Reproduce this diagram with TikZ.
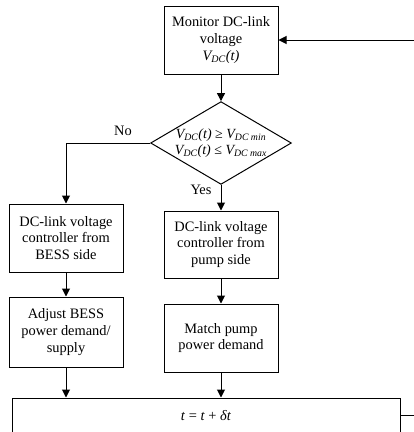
\documentclass[tikz,border=0pt]{standalone}
\usepackage{fontspec}
\setmainfont{Liberation Serif}
\usetikzlibrary{shapes.geometric,arrows.meta}
\begin{document}
\begin{tikzpicture}[x=1pt,y=-1pt,
  box/.style={draw, line width=1pt, inner sep=0pt, align=center,
    minimum width=114pt, font=\fontsize{14.4}{16.7}\selectfont},
  dec/.style={draw, line width=1pt, diamond, aspect=1.7, inner sep=0pt,
    minimum width=139pt, minimum height=82pt, align=center,
    font=\fontsize{14}{16}\selectfont},
  lbl/.style={inner sep=0pt, font=\fontsize{14.4}{16.7}\selectfont},
  arr/.style={-{Triangle[length=8pt,width=8pt]}, line width=1pt},
  ln/.style={line width=1pt}]
\useasboundingbox (0,0) rectangle (414,432);
\clip (0,0) rectangle (414,432);
\node[box, minimum height=68pt] (mon) at (221,40)
  {Monitor DC-link\\voltage\\\textit{V\textsubscript{DC}(t)}};
\node[dec] (dia) at (221,143)
  {\textit{V\textsubscript{DC}(t)} ≥ \textit{V\textsubscript{DC min}}\\
   \textit{V\textsubscript{DC}(t)} ≤ \textit{V\textsubscript{DC max}}};
\node[box, minimum height=68pt] (lb1) at (66,238)
  {DC-link voltage\\controller from\\BESS side};
\node[box, minimum height=70pt] (lb2) at (66,332)
  {Adjust BESS\\power demand/\\supply};
\node[box, minimum height=67pt] (rb1) at (221,244.5)
  {DC-link voltage\\controller from\\pump side};
\node[box, minimum height=68pt] (rb2) at (221,338)
  {Match pump\\power demand};
\node[box, minimum width=388pt, minimum height=35pt] (bot) at (206,415.5)
  {\textit{t} = \textit{t} + \textit{δt}};
\node[lbl] (no) at (123,131) {No};
\node[lbl] (yes) at (201,190) {Yes};
\coordinate (nl) at (66,143);
\draw[arr] (mon) -- (dia);
\draw[arr] (dia.west) -- (nl) -- (lb1.north);
\draw[arr] (dia.south) -- (rb1.north);
\draw[arr] (lb1) -- (lb2);
\draw[arr] (rb1) -- (rb2);
\draw[arr] (lb2.south) -- (lb2.south |- bot.north);
\draw[arr] (rb2.south) -- (rb2.south |- bot.north);
\draw[arr] (bot.east) -- ++(16,0) |- (mon.east);
\end{tikzpicture}
\end{document}
